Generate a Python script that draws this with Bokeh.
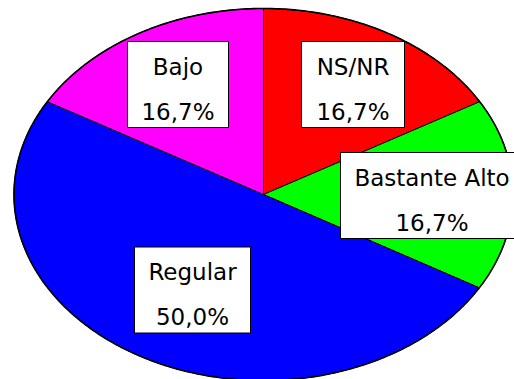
import numpy as np
from bokeh.plotting import figure
from bokeh.models import Range1d, ColumnDataSource
from bokeh.core.properties import value
from bokeh.embed import file_html
from bokeh.resources import INLINE

# Slices, clockwise from 12 o'clock
categories = ["NS/NR", "Bastante Alto", "Regular", "Bajo"]
percentages = [16.7, 16.7, 50.0, 16.7]
colors = ["#FF0000", "#00FF00", "#0000FF", "#FF00FF"]

# Label box layout in pixel space: centre x, centre y, box width
box_cx = [352.5, 431.5, 192.0, 177.5]
box_cy = [84.0, 195.0, 289.5, 84.0]
box_w = [103, 183, 116, 101]
BOX_H = 86

W, H = 514, 379
CX, CY, RX, RY = 263.0, 194.0, 249.5, 186.0
START_DEG = 90.0

p = figure(width=W, height=H, x_range=Range1d(0, W), y_range=Range1d(H, 0),
           x_axis_type=None, y_axis_type=None,
           output_backend="svg", toolbar_location=None, min_border=0)
p.grid.visible = False
p.outline_line_color = None
p.background_fill_color = "white"
p.border_fill_color = "white"

# Elliptical pie wedges
total = sum(percentages)
xs, ys = [], []
angle = START_DEG
for v in percentages:
    sweep = 360.0 * v / total
    t = np.radians(np.linspace(angle, angle - sweep, 120))
    xs.append([CX] + list(CX + RX * np.cos(t)) + [CX])
    ys.append([CY] + list(CY - RY * np.sin(t)) + [CY])
    angle -= sweep
p.patches(xs, ys, fill_color=colors, line_color="black", line_width=1)

# Rim of the pie
t = np.radians(np.linspace(0, 360, 500))
p.line(CX + RX * np.cos(t), CY - RY * np.sin(t), line_color="black", line_width=1.6)

# Label boxes
pct_text = [f"{v:.1f}".replace(".", ",") + "%" for v in percentages]
src = ColumnDataSource(dict(
    x=box_cx, y=box_cy, w=box_w,
    name=categories, pct=pct_text,
    y1=[c - 18 for c in box_cy], y2=[c + 27 for c in box_cy],
))
p.rect(x="x", y="y", width="w", height=BOX_H, source=src,
       fill_color="white", line_color="black", line_width=1)
font = value("DejaVu Sans")
p.text(x="x", y="y1", text="name", source=src, text_font=font,
       text_font_size="23px", text_align="center", text_baseline="alphabetic",
       text_color="black")
p.text(x="x", y="y2", text="pct", source=src, text_font=font,
       text_font_size="23px", text_align="center", text_baseline="alphabetic",
       text_color="black")

open("out.html", "w").write(file_html(p, INLINE))
